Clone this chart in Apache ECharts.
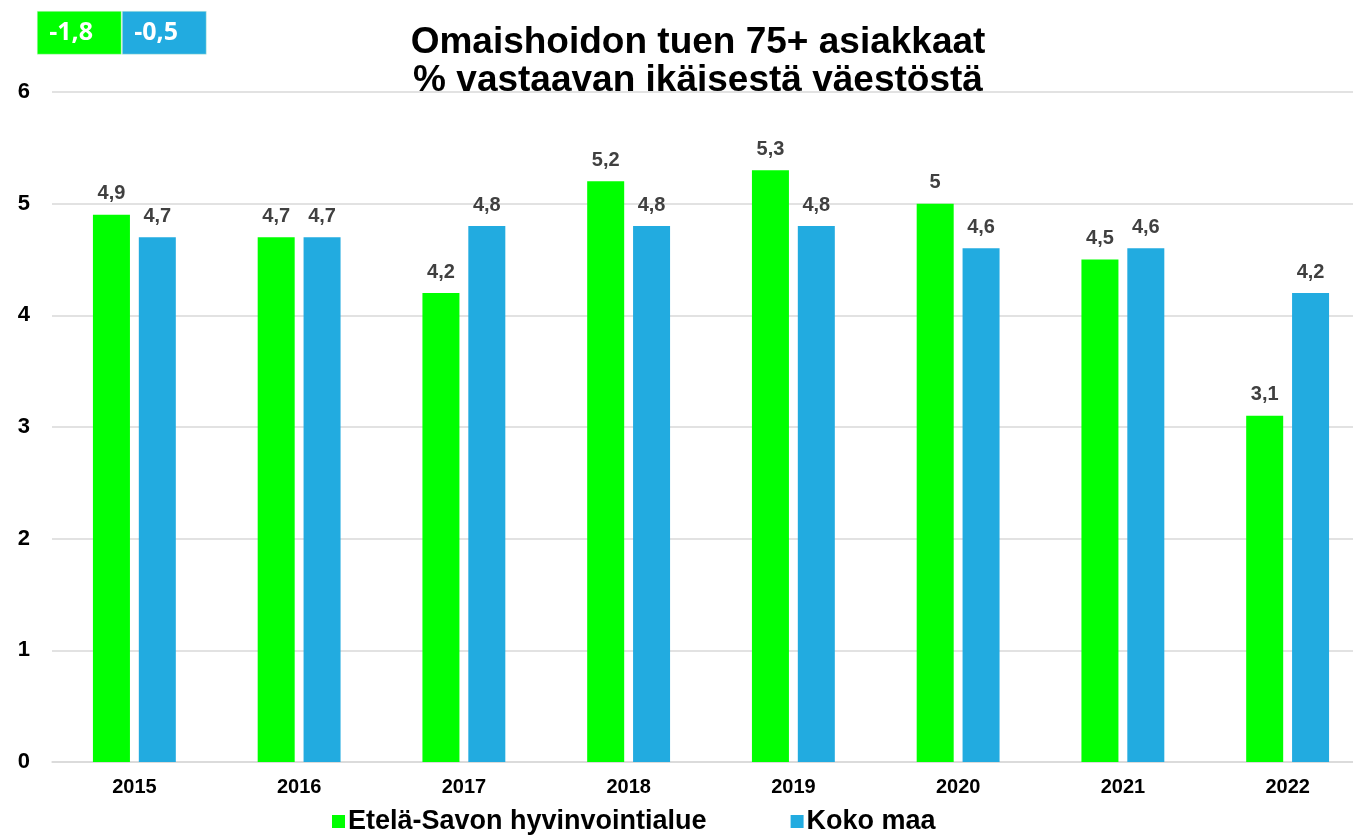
<!DOCTYPE html>
<html>
<head>
<meta charset="utf-8">
<script src="https://cdn.jsdelivr.net/npm/echarts@6/dist/echarts.min.js"></script>
<style>
  html, body { margin: 0; padding: 0; background: #fff; }
  #chart { width: 1353px; height: 839px; }
</style>
</head>
<body>
<div id="chart"></div>
<script>
const years = ['2015', '2016', '2017', '2018', '2019', '2020', '2021', '2022'];
const etelaSavo = [4.9, 4.7, 4.2, 5.2, 5.3, 5.0, 4.5, 3.1];
const kokoMaa = [4.7, 4.7, 4.8, 4.8, 4.8, 4.6, 4.6, 4.2];
const changeBoxes = ['-1,8', '-0,5'];

const GREEN = '#00FF00';
const BLUE = '#22ABE0';
const FONT = 'Liberation Sans, Arial';

const fmt = p => String(p.value).replace('.', ',');

const chart = echarts.init(document.getElementById('chart'));

const labelStyle = {
  show: true,
  position: 'top',
  distance: 11,
  formatter: fmt,
  color: '#404040',
  fontFamily: FONT,
  fontWeight: 'bold',
  fontSize: 20
};

chart.setOption({
  animation: false,
  title: {
    text: 'Omaishoidon tuen 75+ asiakkaat\n% vastaavan ikäisestä väestöstä',
    left: 693,
    textAlign: 'center',
    top: 19,
    textStyle: {
      fontFamily: FONT,
      fontWeight: 'bold',
      fontSize: 37,
      lineHeight: 38,
      color: '#000'
    }
  },
  legend: {
    bottom: -1,
    left: 327,
    itemWidth: 13,
    itemHeight: 13,
    itemGap: 84,
    icon: 'rect',
    textStyle: {
      fontFamily: FONT,
      fontWeight: 'bold',
      fontSize: 27,
      color: '#000',
      padding: [0, 0, 0, -2]
    }
  },
  // the plot runs a little past the right edge, as in the original
  grid: {
    left: 52, top: 92, width: 1318, height: 670,
    containLabel: false,
    outerBoundsMode: 'none'
  },
  xAxis: {
    type: 'category',
    data: years,
    axisLine: { lineStyle: { color: '#D9D9D9', width: 1.5 } },
    axisTick: { show: false },
    axisLabel: {
      margin: 15,
      color: '#000',
      fontFamily: FONT,
      fontWeight: 'bold',
      fontSize: 20
    }
  },
  yAxis: {
    type: 'value',
    min: 0,
    max: 6,
    interval: 1,
    axisLabel: {
      margin: 22,
      color: '#000',
      fontFamily: FONT,
      fontWeight: 'bold',
      fontSize: 22
    },
    splitLine: { lineStyle: { color: '#D9D9D9', width: 1.5 } }
  },
  series: [
    {
      name: 'Etelä-Savon hyvinvointialue',
      type: 'bar',
      data: etelaSavo,
      barWidth: 37,
      barGap: '24%',
      itemStyle: { color: GREEN },
      label: labelStyle
    },
    {
      name: 'Koko maa',
      type: 'bar',
      data: kokoMaa,
      barWidth: 37,
      itemStyle: { color: BLUE },
      label: labelStyle
    }
  ],
  graphic: changeBoxes.map((txt, i) => ({
    type: 'group',
    left: 37 + i * 85,
    top: 11,
    children: [
      {
        type: 'rect',
        shape: { x: 0, y: 0, width: 84, height: 43 },
        style: { fill: i === 0 ? GREEN : BLUE, stroke: '#d8f0d8', lineWidth: 0.5 }
      },
      {
        type: 'text',
        x: 12,
        y: 22,
        style: {
          text: txt,
          fill: '#fff',
          fontFamily: 'Open Sans',
          fontWeight: 'bold',
          fontSize: 25,
          verticalAlign: 'middle'
        }
      }
    ]
  }))
});
</script>
</body>
</html>
